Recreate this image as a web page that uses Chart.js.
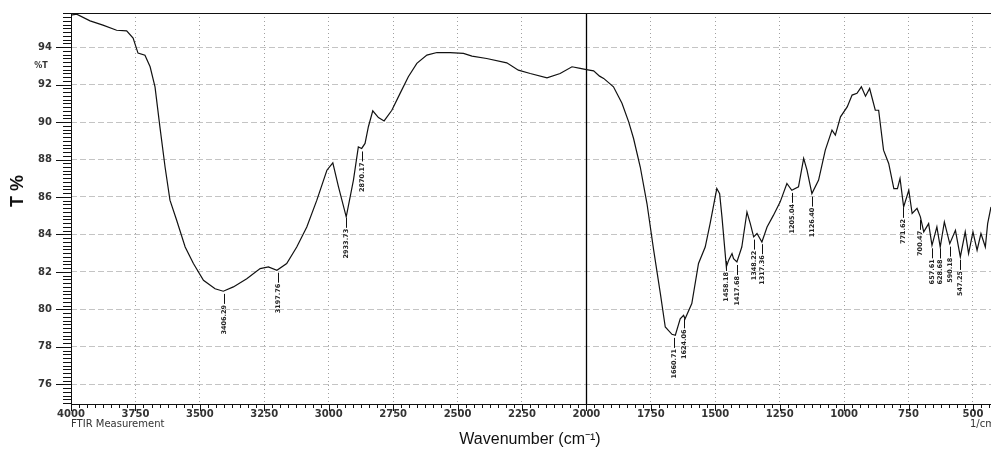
<!DOCTYPE html>
<html>
<head>
<meta charset="utf-8">
<script src="https://cdn.jsdelivr.net/npm/chart.js@4.4.1/dist/chart.umd.min.js"></script>
<style>
  html, body { margin: 0; padding: 0; background: #fff; overflow: hidden; }
  canvas { display: block; }
</style>
</head>
<body>
<canvas id="ftir" width="991" height="451"></canvas>
<script>
// spectrum (1/cm, %T)
const WAVENUMBER = [
  4000, 3978, 3926, 3876, 3823, 3784, 3759, 3740, 3713, 3693, 3674, 3655, 3635, 3616, 3590, 3557,
  3525, 3486, 3441, 3409, 3370, 3318, 3266, 3234, 3201, 3163, 3124, 3085, 3046, 3007, 2984, 2962,
  2932, 2904, 2885, 2872, 2859, 2846, 2829, 2807, 2785, 2755, 2723, 2691, 2658, 2619, 2580, 2529,
  2477, 2444, 2387, 2309, 2264, 2218, 2153, 2102, 2056, 2024, 2000, 1972, 1949, 1933, 1895, 1862,
  1836, 1817, 1791, 1765, 1739, 1713, 1694, 1668, 1655, 1636, 1623, 1617, 1591, 1565, 1539, 1520,
  1494, 1483, 1474, 1457, 1448, 1435, 1429, 1416, 1397, 1377, 1364, 1351, 1338, 1319, 1299, 1274,
  1248, 1222, 1203, 1177, 1157, 1144, 1125, 1099, 1073, 1047, 1034, 1014, 988, 969, 950, 933,
  917, 901, 879, 866, 847, 827, 807, 793, 783, 769, 749, 736, 717, 704, 691, 672,
  659, 640, 627, 611, 590, 568, 549, 530, 517, 500, 484, 469, 452, 443, 430
];
const TRANSMITTANCE = [
  95.71, 95.76, 95.40, 95.17, 94.90, 94.87, 94.48, 93.68, 93.57, 92.95, 91.88, 89.74, 87.60, 85.83, 84.76, 83.33,
  82.45, 81.55, 81.10, 80.97, 81.20, 81.64, 82.18, 82.27, 82.09, 82.45, 83.33, 84.40, 85.83, 87.43, 87.82, 86.54,
  84.94, 86.90, 88.67, 88.59, 88.86, 89.75, 90.60, 90.24, 90.06, 90.63, 91.53, 92.42, 93.13, 93.57, 93.71, 93.71,
  93.66, 93.52, 93.39, 93.16, 92.77, 92.59, 92.36, 92.59, 92.95, 92.86, 92.80, 92.73, 92.45, 92.33, 91.88, 91.00,
  90.01, 89.12, 87.60, 85.65, 83.16, 80.84, 79.06, 78.67, 78.62, 79.50, 79.68, 79.50, 80.31, 82.45, 83.33, 84.58,
  86.45, 86.18, 84.94, 82.27, 82.63, 82.98, 82.71, 82.53, 83.33, 85.20, 84.58, 83.87, 84.05, 83.60, 84.40, 85.03,
  85.74, 86.72, 86.36, 86.54, 88.06, 87.43, 86.18, 86.90, 88.50, 89.57, 89.30, 90.28, 90.81, 91.44, 91.53, 91.88,
  91.38, 91.79, 90.63, 90.63, 88.50, 87.79, 86.45, 86.45, 86.99, 85.47, 86.36, 85.12, 85.39, 84.94, 84.14, 84.58,
  83.42, 84.40, 83.33, 84.67, 83.51, 84.22, 82.80, 84.14, 82.98, 84.14, 83.16, 84.05, 83.33, 84.58, 85.47
];

// picked peaks
const PEAK_WN = [3406, 3198, 2934, 2872, 1660, 1623, 1460, 1416, 1350, 1318, 1204, 1125, 770, 704, 659, 628, 590, 549];
const PEAK_TEXT = ['3406.29', '3197.76', '2933.73', '2870.17', '1660.71', '1624.06', '1458.18', '1417.68', '1348.22',
  '1317.36', '1205.04', '1126.40', '771.62', '700.47', '657.61', '628.68', '590.18', '547.25'];

const X_TICKS = [4000, 3750, 3500, 3250, 3000, 2750, 2500, 2250, 2000, 1750, 1500, 1250, 1000, 750, 500];
const Y_TICKS = [76, 78, 80, 82, 84, 86, 88, 90, 92, 94];

const TICK_FONT = { family: '"DejaVu Sans", Verdana, sans-serif', size: 10, weight: 'bold' };

function tAt(w) {
  for (let i = 0; i < WAVENUMBER.length - 1; i++) {
    const a = WAVENUMBER[i], b = WAVENUMBER[i + 1];
    if (w <= a && w >= b) {
      const f = (a - w) / (a - b);
      return TRANSMITTANCE[i] + f * (TRANSMITTANCE[i + 1] - TRANSMITTANCE[i]);
    }
  }
  return TRANSMITTANCE[TRANSMITTANCE.length - 1];
}

const frame = {
  id: 'frame',
  beforeDatasetsDraw(chart) {
    const { ctx, chartArea: a, scales: { x } } = chart;
    const px = Math.round(x.getPixelForValue(2000)) + 0.5;
    ctx.save();
    ctx.strokeStyle = '#000';
    ctx.lineWidth = 1.3;
    ctx.beginPath(); ctx.moveTo(px, a.top); ctx.lineTo(px, a.bottom); ctx.stroke();
    ctx.restore();
  },
  afterDraw(chart) {
    const { ctx, chartArea: a, scales: { x, y } } = chart;
    ctx.save();
    ctx.strokeStyle = '#111';
    ctx.lineWidth = 1;

    // frame: left, bottom, top
    ctx.beginPath();
    ctx.moveTo(a.left + 0.5, a.top); ctx.lineTo(a.left + 0.5, a.bottom + 0.5);
    ctx.lineTo(a.right, a.bottom + 0.5);
    ctx.moveTo(a.left, a.top + 0.5); ctx.lineTo(a.right, a.top + 0.5);
    ctx.stroke();

    // y tick marks (minor 0.2, major 2)
    ctx.beginPath();
    for (let k = 375; k <= 479; k++) {
      const v = k / 5;
      const py = Math.round(y.getPixelForValue(v)) + 0.5;
      const major = k % 10 === 0;
      ctx.moveTo(a.left - (major ? 15 : 8), py); ctx.lineTo(a.left, py);
    }
    // x tick marks (minor 31.25, major 250)
    for (let k = 0; k <= 114; k++) {
      const v = 4000 - k * 31.25;
      if (v < x.min) break;
      const px = Math.round(x.getPixelForValue(v)) + 0.5;
      const major = k % 8 === 0;
      ctx.moveTo(px, a.bottom); ctx.lineTo(px, a.bottom + (major ? 7 : 4));
    }
    ctx.stroke();

    // peak markers
    ctx.fillStyle = '#222';
    ctx.lineWidth = 1;
    ctx.font = 'bold 6.5px "DejaVu Sans", sans-serif';
    PEAK_WN.forEach((w, i) => {
      const px = Math.round(x.getPixelForValue(w)) + 0.5;
      const py = y.getPixelForValue(tAt(w));
      ctx.beginPath(); ctx.moveTo(px, py + 3); ctx.lineTo(px, py + 13); ctx.stroke();
      ctx.save();
      ctx.translate(px, py + 14);
      ctx.rotate(-Math.PI / 2);
      ctx.textAlign = 'right';
      ctx.textBaseline = 'middle';
      ctx.fillText(PEAK_TEXT[i], 0, 0);
      ctx.restore();
    });

    // texts
    ctx.fillStyle = '#333';
    ctx.font = 'bold 8px "DejaVu Sans", sans-serif';
    ctx.textAlign = 'center'; ctx.textBaseline = 'middle';
    ctx.fillText('%T', 41, 66);

    ctx.font = '10px "DejaVu Sans", sans-serif';
    ctx.textAlign = 'left';
    ctx.fillText('FTIR Measurement', 71, 424);
    ctx.fillText('1/cm', 970, 424);

    ctx.fillStyle = '#111';
    ctx.font = '16px "Liberation Sans", Arial, sans-serif';
    ctx.textAlign = 'center';
    ctx.fillText('Wavenumber (cm\u207B\u00B9)', 530, 440);

    ctx.save();
    ctx.translate(18, 191);
    ctx.rotate(-Math.PI / 2);
    ctx.font = 'bold 18px "Liberation Sans", Arial, sans-serif';
    ctx.fillText('T %', 0, 0);
    ctx.restore();

    ctx.restore();
  }
};

new Chart(document.getElementById('ftir'), {
  type: 'line',
  data: {
    datasets: [{
      data: WAVENUMBER.map((w, i) => ({ x: w, y: TRANSMITTANCE[i] })),
      borderColor: '#111',
      borderWidth: 1.2,
      pointRadius: 0,
      tension: 0,
      fill: false
    }]
  },
  options: {
    responsive: false,
    animation: false,
    devicePixelRatio: 1,
    layout: { padding: { top: 13, left: 0, right: 0, bottom: 0 } },
    plugins: { legend: { display: false }, tooltip: { enabled: false } },
    scales: {
      x: {
        type: 'linear',
        reverse: true,
        min: 430,
        max: 4000,
        afterBuildTicks: s => { s.ticks = X_TICKS.map(v => ({ value: v })); },
        afterFit: s => { s.height = 47; s.paddingLeft = 0; s.paddingRight = 0; s.paddingTop = 0; s.paddingBottom = 0; },
        grid: {
          drawTicks: false,
          color: c => (c.tick && c.tick.value === 2000) ? 'rgba(0,0,0,0)' : '#a0a0a0',
          lineWidth: 1
        },
        border: { display: false, dash: [1, 3] },
        ticks: { font: TICK_FONT, color: '#333', padding: 4, maxRotation: 0, autoSkip: false, callback: v => String(v) }
      },
      y: {
        min: 74.95,
        max: 95.82,
        afterBuildTicks: s => { s.ticks = Y_TICKS.map(v => ({ value: v })); },
        afterFit: s => { s.width = 71; s.paddingLeft = 0; s.paddingRight = 0; s.paddingTop = 0; s.paddingBottom = 0; },
        grid: { drawTicks: false, color: '#c4c4c4', lineWidth: 1 },
        border: { display: false, dash: [6, 3] },
        ticks: { font: TICK_FONT, color: '#333', padding: 19, autoSkip: false, callback: v => String(v) }
      }
    }
  },
  plugins: [frame]
});
</script>
</body>
</html>
